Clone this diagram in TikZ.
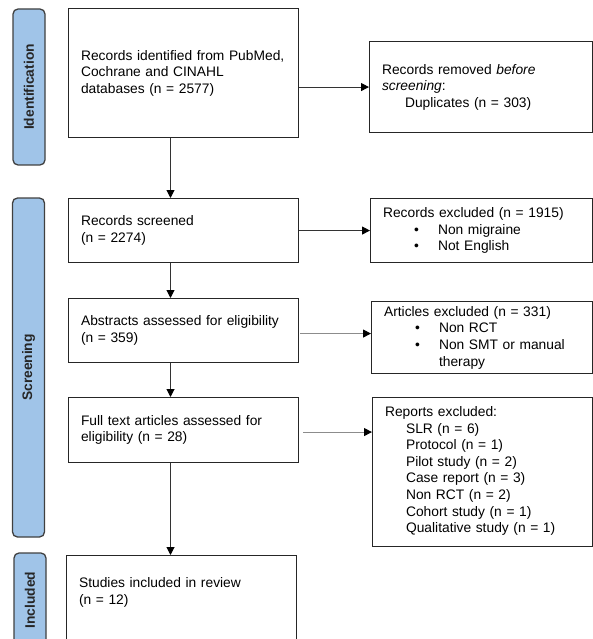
\documentclass[tikz,border=0pt]{standalone}
\usepackage{fontspec}
\setmainfont{Liberation Sans}
\usepackage{xcolor}
\usepackage{tikz}
\usetikzlibrary{arrows.meta,calc}
\definecolor{stageblue}{RGB}{160,196,232}
\definecolor{edgegray}{RGB}{64,64,64}

\begin{document}
\begin{tikzpicture}[x=1pt,y=-1pt]
  \tikzstyle{stage} = [draw=edgegray,fill=stageblue,line width=1.3pt,rounded corners=5pt,rotate=90,minimum height=32pt,inner sep=0pt,font=\fontsize{13.8}{16}\selectfont\bfseries,text=black!85]
  \tikzstyle{box} = [draw=black!85,line width=1.1pt,anchor=north west,align=left,inner xsep=12.5pt,inner ysep=0pt,font=\fontsize{13.8}{16.6}\selectfont]
  \tikzstyle{arr} = [-{Triangle[length=8pt,width=8pt,color=black]},line width=1pt,draw=black!80]
  \tikzstyle{arrlight} = [arr,draw=black!45]
  %
  \useasboundingbox (0,0) rectangle (593,639);
  \clip (0,0) rectangle (593,639);
  % Stage bars.
  \node[stage,minimum width=156pt] (ident) at (29,87) {Identification};
  \node[stage,minimum width=339pt] (screen) at (28.5,367.5) {Screening};
  \node[stage,minimum width=94pt] (incl) at (30,600) {Included};
  % Identification.
  \node[box,minimum width=230pt,minimum height=129pt,text width=205pt] (found) at (68,8)
    {Records identified from PubMed,\\Cochrane and CINAHL\\databases (n = 2577)};
  \node[box,minimum width=223pt,minimum height=91pt,text width=198pt] (dupes) at (369,41)
    {Records removed \textit{before}\\\textit{screening}:\\\hspace*{23pt}Duplicates (n = 303)};
  % Screening.
  \node[box,minimum width=230pt,minimum height=64pt,text width=205pt] (screened) at (68,198)
    {Records screened\\(n = 2274)};
  \node[box,minimum width=222pt,minimum height=64pt,text width=197pt] (recexcl) at (370,198)
    {Records excluded (n = 1915)\\\hspace*{31pt}\makebox[24pt][l]{•}Non migraine\\\hspace*{31pt}\makebox[24pt][l]{•}Not English};
  \node[box,minimum width=230pt,minimum height=64pt,text width=205pt] (abstracts) at (68,298)
    {Abstracts assessed for eligibility\\(n = 359)};
  \node[box,minimum width=221pt,minimum height=72pt,text width=196pt] (artexcl) at (371,301)
    {Articles excluded (n = 331)\\\hspace*{31pt}\makebox[24pt][l]{•}Non RCT\\\hspace*{31pt}\makebox[24pt][l]{•}Non SMT or manual\\\hspace*{55pt}therapy};
  \node[box,minimum width=230pt,minimum height=65pt,text width=205pt] (fulltext) at (68,397)
    {Full text articles assessed for\\eligibility (n = 28)};
  \node[box,minimum width=220pt,text width=195pt,inner ysep=9pt] (repexcl) at (372,397)
    {\parbox[t][131pt][t]{195pt}{Reports excluded:\\
      \hspace*{21pt}SLR (n = 6)\\
      \hspace*{21pt}Protocol (n = 1)\\
      \hspace*{21pt}Pilot study (n = 2)\\
      \hspace*{21pt}Case report (n = 3)\\
      \hspace*{21pt}Non RCT (n = 2)\\
      \hspace*{21pt}Cohort study (n = 1)\\
      \hspace*{21pt}Qualitative study (n = 1)}};
  % Included.
  \node[box,minimum width=230pt,text width=205pt,inner ysep=22pt] (studies) at (66,555)
    {\parbox[t][80pt][t]{205pt}{Studies included in review\\(n = 12)}};
  % Connectors.
  \coordinate (spine) at (170.5,0);
  \draw[arr] (found.south -| spine) -- (screened.north -| spine);
  \draw[arr] (screened.south -| spine) -- (abstracts.north -| spine);
  \draw[arr] (abstracts.south -| spine) -- (fulltext.north -| spine);
  \draw[arr] (fulltext.south -| spine) -- (studies.north -| spine);
  \draw[arr] (found.east |- dupes.west) -- (dupes.west);
  \draw[arr] (screened.east |- recexcl.west) -- (recexcl.west);
  \draw[arrlight,shorten <=1pt] ($(abstracts.east)+(0,3)$) -- ($(abstracts.east -| artexcl.west)+(0,3)$);
  \draw[arrlight,shorten <=4pt] ($(fulltext.east)+(0,2)$) -- ($(fulltext.east -| repexcl.west)+(0,2)$);
\end{tikzpicture}
\end{document}
